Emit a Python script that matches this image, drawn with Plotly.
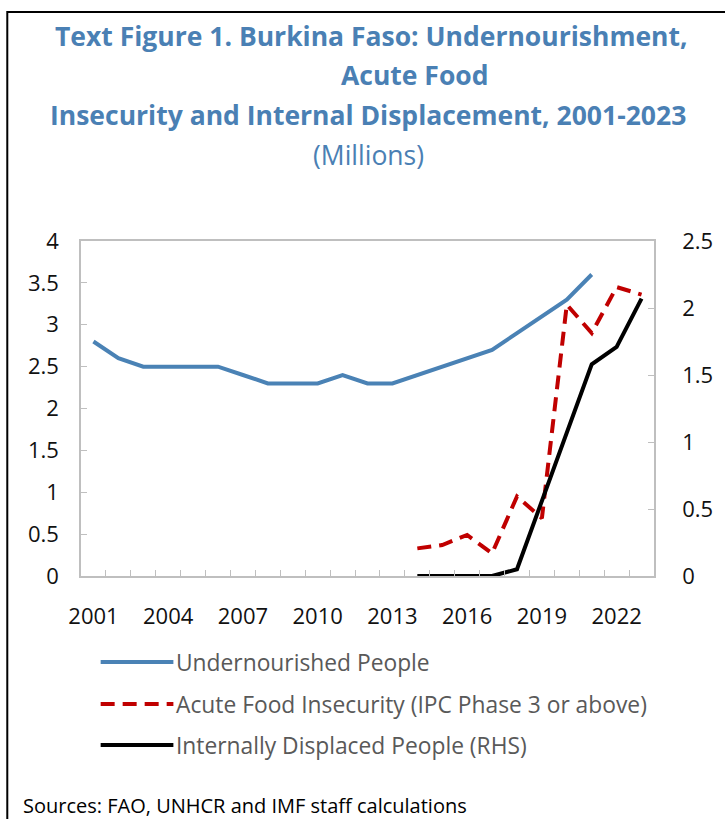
import plotly.graph_objects as go

# --- data (millions) ---
years = [str(y) for y in range(2001, 2024)]
undernourished = [2.8, 2.6, 2.5, 2.5, 2.5, 2.5, 2.4, 2.3, 2.3, 2.3, 2.4, 2.3, 2.3,
                  2.4, 2.5, 2.6, 2.7, 2.9, 3.1, 3.3, 3.6, None, None]
acute_food = [None] * 13 + [0.33, 0.37, 0.49, 0.27, 0.95, 0.69, 3.24, 2.9, 3.45, 3.36]
displaced = [None] * 13 + [0.0, 0.0, 0.0, 0.0, 0.05, 0.56, 1.07, 1.58, 1.71, 2.07]
tick_labels = ["2001", "2004", "2007", "2010", "2013", "2016", "2019", "2022"]

series_names = [
    "Undernourished People",
    "Acute Food Insecurity (IPC Phase 3 or above)",
    "Internally Displaced People (RHS)",
]

BLUE = "#4A82B5"
RED = "#C00000"
TITLE_BLUE = "#4A80B4"
GRID = "#BFBFBF"
FONT = "Open Sans"

W, H = 725, 819
L, R, T, B = 81, 664, 241, 576  # plot area in pixels


def px(x):
    return (x - L) / (R - L)


def py(y):
    return (B - y) / (B - T)


fig = go.Figure()
fig.add_trace(go.Scatter(x=years, y=undernourished, mode="lines",
                         line=dict(color=BLUE, width=4), name=series_names[0]))
fig.add_trace(go.Scatter(x=years, y=acute_food, mode="lines",
                         line=dict(color=RED, width=4, dash="14px,8px"),
                         name=series_names[1]))
fig.add_trace(go.Scatter(x=years, y=displaced, mode="lines", yaxis="y2",
                         line=dict(color="black", width=4), name=series_names[2]))

tick_font = dict(family=FONT, size=22, color="#111111")

fig.update_layout(
    width=W, height=H,
    margin=dict(l=L, r=W - R, t=T, b=H - B),
    paper_bgcolor="white", plot_bgcolor="white",
    showlegend=False,
    font=dict(family=FONT),
    xaxis=dict(
        type="category",
        range=[-0.5, len(years) - 0.5],
        tickmode="array",
        tickvals=years,
        ticktext=[y if y in tick_labels else "" for y in years],
        tickson="boundaries",
        tickangle=0,
        ticks="inside", ticklen=6, tickcolor=GRID, tickwidth=1,
        showline=True, linecolor=GRID, linewidth=1.5, mirror=True,
        showgrid=False, zeroline=False,
        tickfont=tick_font,
        ticklabelstandoff=20,
    ),
    yaxis=dict(
        range=[0, 4], dtick=0.5,
        ticks="inside", ticklen=6, tickcolor=GRID,
        showline=True, linecolor=GRID, linewidth=1.5,
        showgrid=False, zeroline=False,
        tickfont=tick_font,
        ticklabelstandoff=16,
    ),
    yaxis2=dict(
        range=[0, 2.5], dtick=0.5, overlaying="y", side="right",
        ticks="inside", ticklen=6, tickcolor=GRID,
        showline=True, linecolor=GRID, linewidth=1.5,
        showgrid=False, zeroline=False,
        tickfont=tick_font,
        ticklabelstandoff=22,
    ),
)

# title block
title_lines = [
    ("<b>Text Figure 1. Burkina Faso: Undernourishment,</b>", 377, 36),
    ("<b>Acute Food</b>", 421, 75),
    ("<b>Insecurity and Internal Displacement, 2001-2023</b>", 373, 115),
    ("(Millions)", 374, 155),
]
for text, cx, cy in title_lines:
    fig.add_annotation(text=text, x=px(cx), y=py(cy), xref="paper", yref="paper",
                       xanchor="center", yanchor="middle", showarrow=False,
                       font=dict(family=FONT, size=26.5, color=TITLE_BLUE))

# legend drawn by hand (long line samples)
legend_rows = [(662, BLUE, "solid"), (704, RED, "14px,8px"), (745, "black", "solid")]
for (ry, color, dash), name in zip(legend_rows, series_names):
    fig.add_shape(type="line", xref="paper", yref="paper",
                  x0=px(101), x1=px(175), y0=py(ry), y1=py(ry),
                  line=dict(color=color, width=4, dash=dash))
    fig.add_annotation(text=name, x=px(176), y=py(ry), xref="paper", yref="paper",
                       xanchor="left", yanchor="middle", showarrow=False,
                       font=dict(family=FONT, size=22.8, color="#595959"))

fig.add_annotation(text="Sources: FAO, UNHCR and IMF staff calculations",
                   x=px(20), y=py(805), xref="paper", yref="paper",
                   xanchor="left", yanchor="middle", showarrow=False,
                   font=dict(family=FONT, size=20, color="black"))

# outer frame
fig.add_shape(type="rect", xref="paper", yref="paper",
              x0=px(6), x1=px(740), y0=py(840), y1=py(12),
              line=dict(color="black", width=2), fillcolor="rgba(0,0,0,0)",
              layer="below")

fig.write_html("out.html", config={"displayModeBar": False},
               post_script="document.body.style.margin='0';")
